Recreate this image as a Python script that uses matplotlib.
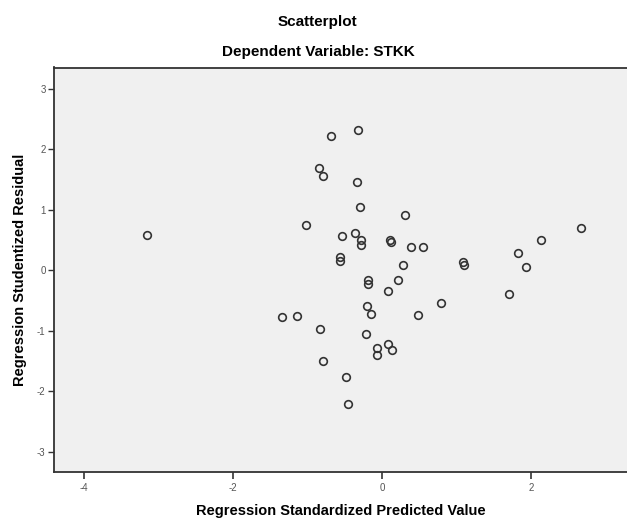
import matplotlib.pyplot as plt
import numpy as np

plt.rcParams['font.family'] = ['Liberation Sans', 'DejaVu Sans']

# standardized predicted value vs studentized residual
pred = [-3.15, -1.34, -1.14, -1.02, -0.85, -0.79, -0.83, -0.79, -0.68, -0.56,
        -0.56, -0.53, -0.48, -0.45, -0.36, -0.34, -0.32, -0.30, -0.28, -0.28,
        -0.20, -0.21, -0.19, -0.18, -0.15, -0.06, -0.06, 0.08, 0.14, 0.08,
        0.11, 0.12, 0.21, 0.29, 0.31, 0.39, 0.49, 0.55, 0.79, 1.09,
        1.10, 1.71, 1.83, 1.94, 2.14, 2.67]
resid = [0.58, -0.78, -0.76, 0.74, 1.68, 1.55, -0.97, -1.51, 2.21, 0.21,
         0.15, 0.57, -1.77, -2.22, 0.62, 1.45, 2.32, 1.05, 0.49, 0.42,
         -0.60, -1.06, -0.17, -0.23, -0.73, -1.28, -1.40, -1.22, -1.32, -0.34,
         0.49, 0.47, -0.17, 0.09, 0.91, 0.38, -0.75, 0.38, -0.54, 0.14,
         0.09, -0.39, 0.28, 0.05, 0.50, 0.70]

xticks = [-4, -2, 0, 2]
yticks = [-3, -2, -1, 0, 1, 2, 3]

fig = plt.figure(figsize=(6.27, 5.25), dpi=100)
ax = fig.add_axes([54/627, 1 - 471.5/525, 1 - 54/627, (471.5 - 67.5)/525])
ax.set_facecolor('#f0f0f0')

ax.plot(pred, resid, 'o', markersize=5.5, markerfacecolor='none',
        markeredgecolor='#333333', markeredgewidth=1.2, linestyle='none')

ax.set_xlim(-4.40, 3.29)
ax.set_ylim(-3.33, 3.35)
ax.set_xticks(xticks)
ax.set_yticks(yticks)
ax.set_xticklabels([str(t) for t in xticks])
ax.set_yticklabels([str(t) for t in yticks])
ax.tick_params(axis='both', direction='out', labelsize=7, colors='#333333',
               labelcolor='#555555')
ax.tick_params(axis='x', length=5, width=1.2, pad=3)
ax.tick_params(axis='y', length=4, width=1.0, pad=2)

for s in ['left', 'bottom', 'top']:
    ax.spines[s].set_color('#333333')
    ax.spines[s].set_linewidth(1.3)
ax.spines['right'].set_visible(False)

ax.set_xlabel('Regression Standardized Predicted Value', fontsize=10.5,
              fontweight='bold', labelpad=8)
ax.set_ylabel('Regression Studentized Residual', fontsize=10.5,
              fontweight='bold', labelpad=7)

fig.text(0.507, 1 - 22/525, 'Scatterplot', ha='center', va='center',
         fontsize=11, fontweight='bold')
fig.text(0.507, 1 - 52/525, 'Dependent Variable: STKK', ha='center',
         va='center', fontsize=11, fontweight='bold')

fig.savefig('out.png', dpi=100)
